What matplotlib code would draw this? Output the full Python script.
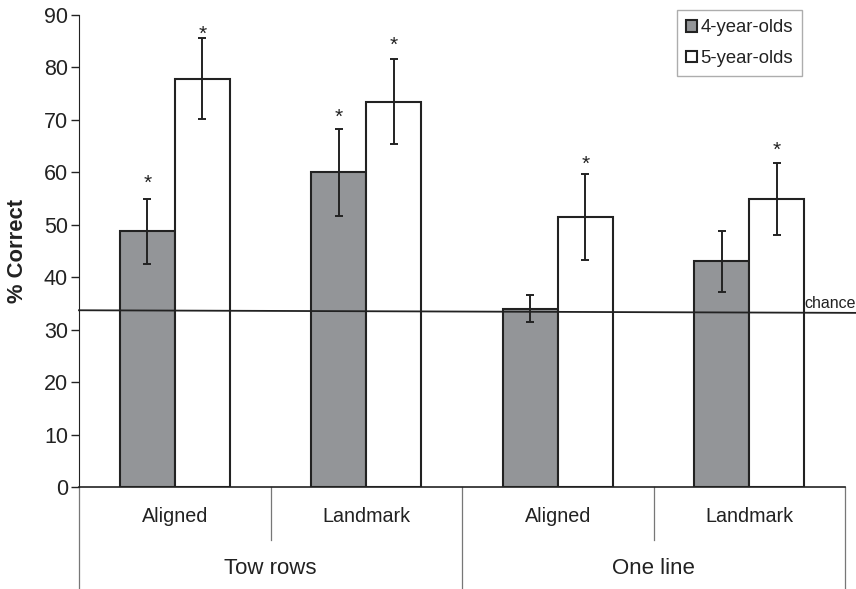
"""Bar chart: % correct by condition and age group."""
import matplotlib
matplotlib.use("Agg")
import matplotlib.pyplot as plt
from matplotlib.transforms import blended_transform_factory
import numpy as np

plt.rcParams['font.family'] = ['Liberation Sans', 'DejaVu Sans']

# Data
conditions = ["Aligned", "Landmark", "Aligned", "Landmark"]
groups = ["Tow rows", "One line"]
series_names = ["4-year-olds", "5-year-olds"]
four_vals = [48.8, 60.0, 34.0, 43.0]
four_err_hi = [54.9, 68.2, 36.6, 48.9]
four_err_lo = [42.5, 51.7, 31.5, 37.2]
five_vals = [77.8, 73.5, 51.4, 55.0]
five_err_hi = [85.6, 81.7, 59.6, 61.8]
five_err_lo = [70.1, 65.4, 43.2, 48.1]
# significance marks (None = no star)
four_star_y = [58.4, 70.9, None, None]
five_star_y = [86.8, 84.7, 62.0, 64.6]
chance_level = (33.7, 33.2)

GRAY = "#939598"
EDGE = "#222222"
BAR_W = 0.287

fig = plt.figure(figsize=(8.56, 5.89), dpi=100)
ax = fig.add_axes([79 / 856, 1 - 487 / 589, 766 / 856, 472 / 589])

x = np.arange(len(conditions))
for vals, hi, lo, stars, color, off, name in [
        (four_vals, four_err_hi, four_err_lo, four_star_y, GRAY, -BAR_W / 2, series_names[0]),
        (five_vals, five_err_hi, five_err_lo, five_star_y, "white", BAR_W / 2, series_names[1])]:
    vals = np.array(vals)
    yerr = [vals - np.array(lo), np.array(hi) - vals]
    ax.bar(x + off, vals, width=BAR_W, color=color, edgecolor=EDGE, linewidth=1.5,
           label=name, zorder=2)
    ax.errorbar(x + off, vals, yerr=yerr, fmt="none", ecolor=EDGE, elinewidth=1.4,
                capsize=2.9, capthick=1.4, zorder=4)
    for xi, s in zip(x + off, stars):
        if s is not None:
            ax.annotate("*", (xi, s), xytext=(0, -5.5), textcoords="offset points",
                        ha="center", va="baseline", fontsize=15, color=EDGE,
                        annotation_clip=False)

# chance line
ax.plot([-0.5, 3.557], list(chance_level), color=EDGE, lw=1.3, clip_on=False, zorder=3)
fig.text(855.5 / 856, 1 - 308 / 589, "chance", ha="right", va="baseline", fontsize=11.5,
         color=EDGE)

ax.set_xlim(-0.5, 3.5)
ax.set_ylim(0, 90)
ax.set_yticks(range(0, 91, 10))
ax.tick_params(axis="y", labelsize=15.5, colors=EDGE, length=6, width=1, pad=2)
ax.set_xticks([])
for side in ["top", "right"]:
    ax.spines[side].set_visible(False)
ax.spines["left"].set_color(EDGE)
ax.spines["bottom"].set_color(EDGE)
ax.spines["bottom"].set_linewidth(1.2)

ax.set_ylabel("% Correct", fontsize=15.8, fontweight="bold", color=EDGE)
ax.yaxis.set_label_coords(-0.0666, 0.5)

# category axis
tr = blended_transform_factory(ax.transData, ax.transAxes)
y_short = (487 - 540) / 472
y_long = (487 - 589) / 472
for xd, y_end in [(-0.5, y_long), (0.5, y_short), (1.5, y_long), (2.5, y_short), (3.5, y_long)]:
    ax.plot([xd, xd], [0, y_end], transform=tr, color="#777777", lw=0.9, clip_on=False)
for xi, lab in zip(x, conditions):
    ax.text(xi, (487 - 517) / 472, lab, transform=tr, ha="center", va="center",
            fontsize=14.2, color=EDGE)
for gi, lab in enumerate(groups):
    ax.text(0.5 + 2 * gi, (487 - 569) / 472, lab, transform=tr, ha="center", va="center",
            fontsize=16, color=EDGE)

leg = ax.legend(loc="upper right", bbox_to_anchor=(802 / 856, 1 - 10 / 589),
                bbox_transform=fig.transFigure, fontsize=13.3, frameon=True, fancybox=False,
                handlelength=0.6, handleheight=0.6, handletextpad=0.15, borderpad=0.5,
                labelspacing=0.75, borderaxespad=0)
leg.get_frame().set_edgecolor("#999999")
leg.get_frame().set_linewidth(1.0)
for t in leg.get_texts():
    t.set_color(EDGE)

fig.savefig("out.png", dpi=100)
